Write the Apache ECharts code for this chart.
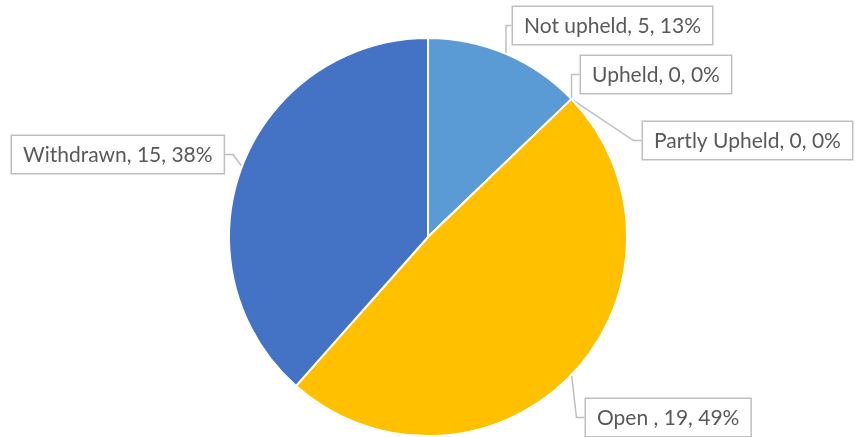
<!DOCTYPE html>
<html>
<head>
<meta charset="utf-8">
<script src="https://cdn.jsdelivr.net/npm/echarts@6/dist/echarts.min.js"></script>
<style>
  html, body { margin: 0; padding: 0; background: #fff; }
  #chart { width: 855px; height: 437px; }
</style>
</head>
<body>
<div id="chart"></div>
<script>
// slice names and counts, clockwise from 12 o'clock
var names = ['Not upheld', 'Upheld', 'Partly Upheld', 'Open ', 'Withdrawn']
var counts = [5, 0, 0, 19, 15]
var colors = ['#5B9BD5', '#ED7D31', '#A5A5A5', '#FFC000', '#4472C4']

// where each callout box sits (top-left corner)
var boxPos = [
  [513, 7],
  [581, 56],
  [643, 122],
  [586, 399],
  [12, 136]
]

var chart = echarts.init(document.getElementById('chart'))

var option = {
  animation: false,
  series: [
    {
      type: 'pie',
      center: [428, 237],
      radius: [0, 199],
      startAngle: 90,
      clockwise: true,
      avoidLabelOverlap: false,
      itemStyle: {
        borderColor: '#fff',
        borderWidth: 2
      },
      label: {
        show: true,
        formatter: function(p) {
          return p.name + ', ' + p.value + ', ' + Math.round(p.percent) + '%'
        },
        fontFamily: 'Lato, "Open Sans", sans-serif',
        fontSize: 21,
        lineHeight: 22,
        color: '#595959',
        backgroundColor: '#fff',
        borderColor: '#BFBFBF',
        borderWidth: 1.5,
        padding: [8, 11, 7, 11]
      },
      labelLine: {
        show: true,
        length: 8,
        length2: 8,
        lineStyle: { color: '#BFBFBF', width: 1.5 }
      },
      labelLayout: function(params) {
        var p = boxPos[params.dataIndex]
        return { x: p[0], y: p[1], align: 'left', verticalAlign: 'top' }
      },
      data: names.map(function(n, i) {
        return { name: n, value: counts[i], itemStyle: { color: colors[i] } }
      })
    }
  ]
}

chart.setOption(option)
</script>
</body>
</html>
